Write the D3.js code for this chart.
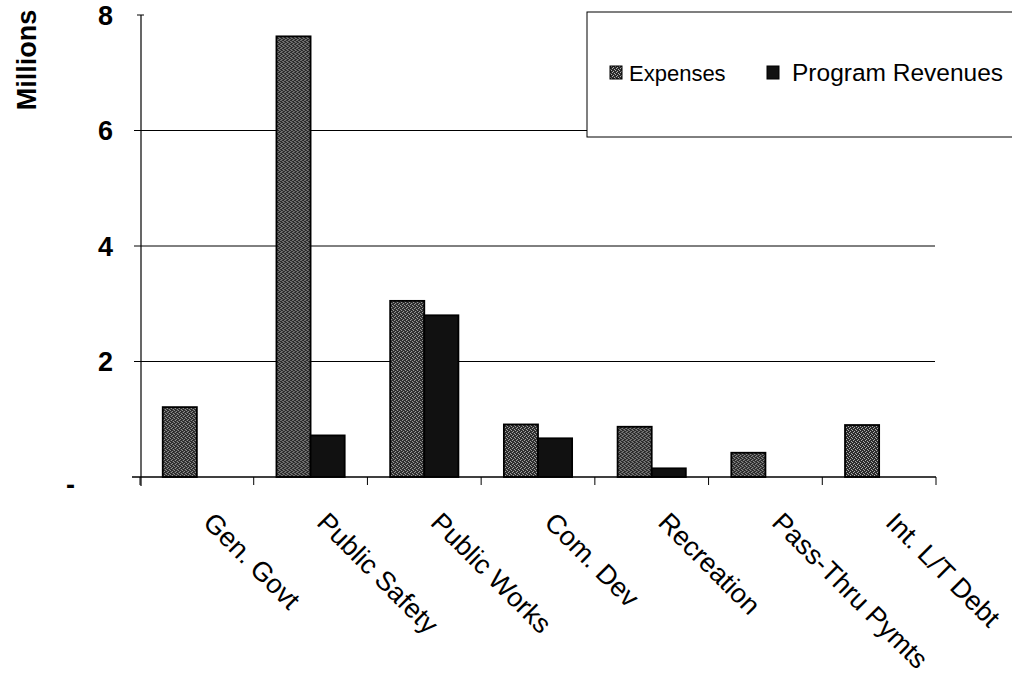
<!DOCTYPE html>
<html>
<head>
<meta charset="utf-8">
<script src="https://cdn.jsdelivr.net/npm/d3@7"></script>
<style>
  body { margin: 0; background: #fff; }
  svg { display: block; font-family: Arial, "Liberation Sans", sans-serif; }
</style>
</head>
<body>
<div id="chart"></div>
<script>
// chart data
const categories = ["Gen. Govt", "Public Safety", "Public Works", "Com. Dev", "Recreation", "Pass-Thru Pymts", "Int. L/T Debt"];
const seriesNames = ["Expenses", "Program Revenues"];
const expenses = [1.21, 7.63, 3.05, 0.91, 0.87, 0.42, 0.9];
const revenues = [0, 0.72, 2.8, 0.67, 0.15, 0, 0];
const yTicks = [0, 2, 4, 6, 8];

const width = 1012, height = 681;
const x0 = 140, x1 = 936;
const yZero = 477, yTop = 15;

const svg = d3.select('#chart').append('svg')
    .attr('width', width)
    .attr('height', height);

// speckled fill for the Expenses bars
const defs = svg.append('defs');
const pat = defs.append('pattern')
    .attr('id', 'speckle')
    .attr('width', 4).attr('height', 4)
    .attr('patternUnits', 'userSpaceOnUse');
pat.append('rect').attr('width', 4).attr('height', 4).attr('fill', '#2b2b2b');
[[0, 0], [2, 1], [1, 3], [3, 2]].forEach(p => {
    pat.append('rect').attr('x', p[0]).attr('y', p[1])
        .attr('width', 1).attr('height', 1).attr('fill', '#b0b0b0');
});

const x = d3.scaleBand()
    .domain(categories)
    .range([x0, x1])
    .paddingInner(0.4)
    .paddingOuter(0.2);

const xSub = d3.scaleBand()
    .domain(seriesNames)
    .range([0, x.bandwidth()]);

const y = d3.scaleLinear()
    .domain([0, 8])
    .range([yZero, yTop]);

// gridlines (2, 4, 6)
svg.append('g')
    .selectAll('line')
    .data(yTicks.filter(d => d > 0 && d < 8))
    .join('line')
    .attr('x1', x0).attr('x2', x1 - 1)
    .attr('y1', d => y(d)).attr('y2', d => y(d))
    .attr('stroke', '#000')
    .attr('stroke-width', 1);

// bars
const data = categories.map((c, i) => ({ cat: c, vals: [expenses[i], revenues[i]] }));
const group = svg.append('g')
    .selectAll('g')
    .data(data)
    .join('g')
    .attr('transform', d => `translate(${x(d.cat)},0)`);

group.selectAll('rect')
    .data(d => d.vals.map((v, j) => ({ key: seriesNames[j], v })).filter(e => e.v > 0))
    .join('rect')
    .attr('x', d => xSub(d.key))
    .attr('y', d => y(d.v))
    .attr('width', xSub.bandwidth())
    .attr('height', d => yZero - y(d.v))
    .attr('fill', d => d.key === 'Expenses' ? 'url(#speckle)' : '#111')
    .attr('stroke', '#000')
    .attr('stroke-width', 1.8);

// x axis
const xAxis = svg.append('g')
    .attr('transform', `translate(0,${yZero})`);
xAxis.append('line')
    .attr('x1', x0 - 8).attr('x2', x1)
    .attr('stroke', '#000').attr('stroke-width', 1.5);
xAxis.selectAll('.xtick')
    .data(categories.map((c, i) => i === 0 ? x0 : x(c) - (x.step() - x.bandwidth()) / 2).concat([x1]))
    .join('line')
    .attr('class', 'xtick')
    .attr('x1', d => d).attr('x2', d => d)
    .attr('y1', 0).attr('y2', 8)
    .attr('stroke', '#000');

xAxis.selectAll('text')
    .data(categories)
    .join('text')
    .attr('transform', d => `translate(${x(d) + x.bandwidth() / 2 + 5},47) rotate(45)`)
    .attr('text-anchor', 'start')
    .attr('font-size', 27)
    .attr('fill', '#000')
    .text(d => d);

// y axis
const yAxis = svg.append('g');
yAxis.append('line')
    .attr('x1', x0 + 1).attr('x2', x0 + 1)
    .attr('y1', yTop).attr('y2', yZero + 9)
    .attr('stroke', '#000').attr('stroke-width', 1.2);
yAxis.selectAll('.ytick')
    .data(yTicks.filter(d => d > 0))
    .join('line')
    .attr('class', 'ytick')
    .attr('x1', d => d === 8 ? x0 - 3 : x0 - 6).attr('x2', d => d === 8 ? x0 + 4 : x0)
    .attr('y1', d => y(d)).attr('y2', d => y(d))
    .attr('stroke', '#000');
yAxis.selectAll('text')
    .data(yTicks)
    .join('text')
    .attr('x', d => d === 0 ? 75 : 113)
    .attr('y', d => y(d) + (d === 0 ? 7 : 0))
    .attr('dy', '0.36em')
    .attr('text-anchor', 'end')
    .attr('font-size', 27)
    .attr('font-weight', 'bold')
    .attr('fill', '#000')
    .text(d => d === 0 ? '-' : d);

svg.append('text')
    .attr('transform', 'translate(36,60) rotate(-90)')
    .attr('text-anchor', 'middle')
    .attr('font-size', 27)
    .attr('font-weight', 'bold')
    .text('Millions');

// legend
const legend = svg.append('g');
legend.append('rect')
    .attr('x', 587).attr('y', 12)
    .attr('width', 450).attr('height', 125)
    .attr('fill', '#fff')
    .attr('stroke', '#000')
    .attr('stroke-width', 1);
const legendX = [610, 767];
const legendTextX = [629, 792];
seriesNames.forEach((s, i) => {
    legend.append('rect')
        .attr('x', legendX[i]).attr('y', 66)
        .attr('width', 12).attr('height', 13)
        .attr('fill', i === 0 ? 'url(#speckle)' : '#111')
        .attr('stroke', '#000');
    legend.append('text')
        .attr('x', legendTextX[i]).attr('y', 81)
        .attr('font-size', i === 0 ? 22 : 24.5)
        .attr('fill', '#000')
        .text(s);
});
</script>
</body>
</html>
